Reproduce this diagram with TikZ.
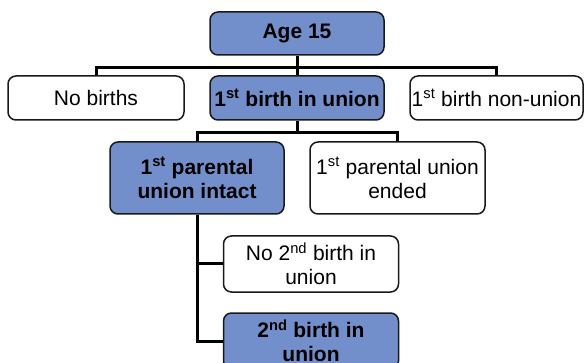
\documentclass[tikz,border=0pt]{standalone}
\usepackage{fontspec}
\setmainfont{Liberation Sans}
\definecolor{boxblue}{RGB}{115,143,203}
\definecolor{edge}{RGB}{25,25,25}
\tikzset{
  tbox/.style={draw=edge, line width=1.5pt, rounded corners=8pt, align=center,
    inner sep=0pt, font=\fontsize{21}{24}\selectfont, text=black},
  bluebox/.style={tbox, fill=boxblue, font=\fontsize{21}{24}\selectfont\bfseries},
  whitebox/.style={tbox, fill=white},
  conn/.style={draw=black, line width=3pt}
}
\begin{document}
\begin{tikzpicture}[x=1pt, y=-1pt]
\clip (0,0) rectangle (586,363);
\useasboundingbox (0,0) rectangle (586,363);
\fill[white] (0,0) rectangle (586,363);
% coordinates of bars
\coordinate (bar1) at (297,67.5);
\coordinate (bar2) at (297,133);
% connectors first
\node[bluebox, minimum width=174pt, minimum height=43pt] (age) at (297,33.5) {Age 15};
\node[whitebox, minimum width=176pt, minimum height=44pt] (nob) at (96,98) {No births};
\node[bluebox, minimum width=174pt, minimum height=44pt] (biu) at (297,98) {1\textsuperscript{st} birth in union};
\node[whitebox, minimum width=173pt, minimum height=44pt] (bnu) at (496.5,98) {1\textsuperscript{st} birth non-union};
\node[bluebox, minimum width=174pt, minimum height=72pt] (intact) at (197,178) {1\textsuperscript{st} parental\\union intact};
\node[whitebox, minimum width=175pt, minimum height=72pt] (ended) at (397.5,178) {1\textsuperscript{st} parental union\\ended};
\node[whitebox, minimum width=175pt, minimum height=56pt] (no2) at (311,264) {No 2\textsuperscript{nd} birth in\\union};
\node[bluebox, minimum width=175pt, minimum height=56pt] (b2) at (311,341) {2\textsuperscript{nd} birth in\\union};
\begin{scope}[on background layer/.style={}]
\end{scope}
\draw[conn] (age.south) -- (biu.north);
\draw[conn] (nob.north) |- (bar1) -| (bnu.north);
\draw[conn] (biu.south) -- (bar2);
\draw[conn] (intact.north) |- (bar2) -| (ended.north);
\draw[conn] (intact.south) |- (b2.west);
\draw[conn] (intact.south |- no2.west) -- (no2.west);
\end{tikzpicture}
\end{document}
